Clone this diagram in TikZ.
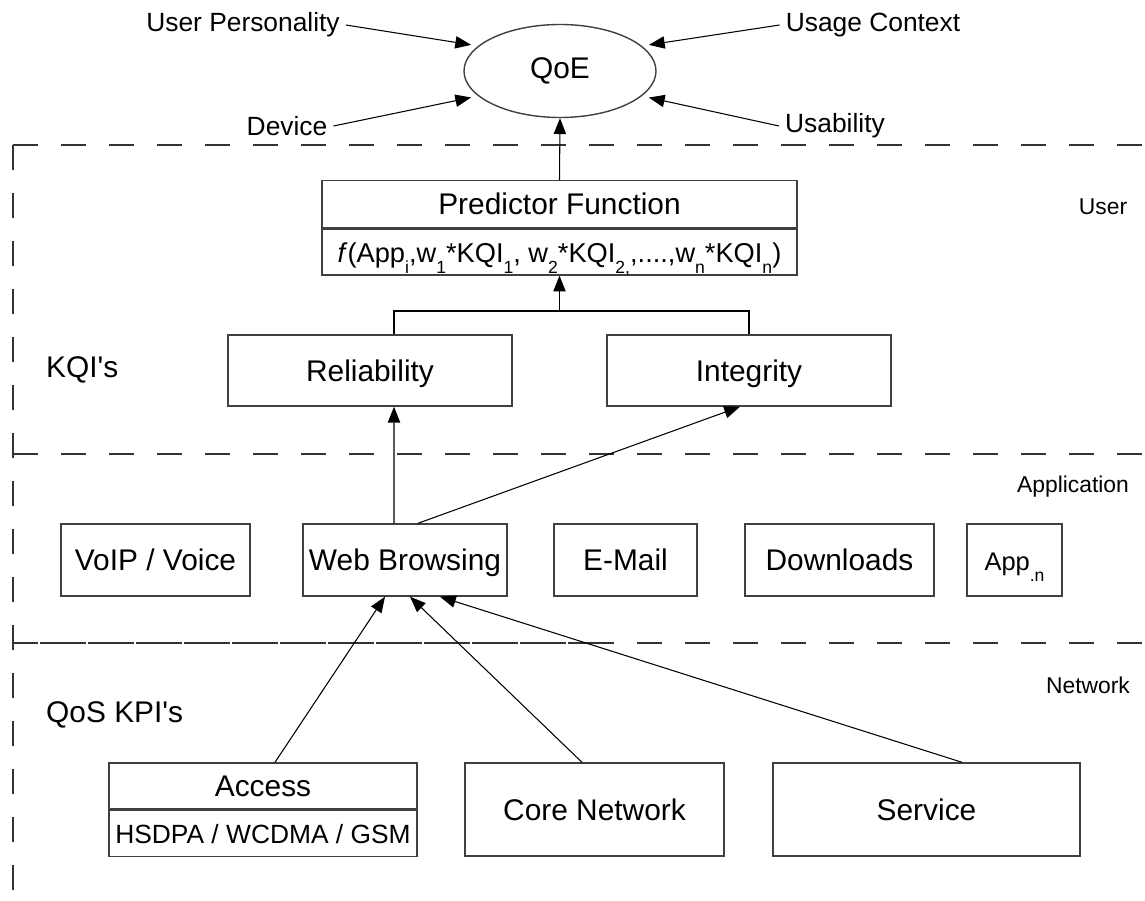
\documentclass[tikz,border=0pt]{standalone}
\usepackage{fontspec}
\setmainfont{Liberation Sans}
\usetikzlibrary{shapes.geometric, arrows.meta, positioning, calc}
\newcommand{\subtxt}[1]{\raisebox{-0.8ex}{\fontsize{10}{12}\selectfont #1}}
\tikzset{
    block/.style={rectangle, draw=black!75, line width=0.8pt, minimum height=1.42cm, align=center, font=\fontsize{17}{20}\selectfont, inner sep=2pt, text height=12pt, text depth=0pt},
    upper/.style={block, minimum height=0.94cm},
    lower/.style={block, minimum height=0.92cm},
    source/.style={font=\fontsize{15}{18}\selectfont},
    tier/.style={font=\fontsize{13}{16}\selectfont},
    arrow/.style={line width=0.6pt, -{Triangle[length=9pt,width=7pt]}},
    link/.style={line width=0.6pt},
    layer/.style={line width=0.7pt, black!80, dash pattern=on 0.5cm off 0.46cm}
}

\begin{document}
\begin{tikzpicture}
    \useasboundingbox (0,0) rectangle (22.9,-18.02);
    % layers
    \draw[layer] (0.26,-2.9) -- (22.9,-2.9);
    \draw[layer] (0.26,-9.08) -- (22.9,-9.08);
    \draw[layer] (0.26,-12.86) -- (22.9,-12.86);
    \draw[layer, dash phase=0.42cm] (0.26,-12.86) -- (11.8,-12.86);
    \draw[layer] (0.26,-2.9) -- (0.26,-18.02);
    \node[tier] (user) at (22.06,-4.14) {User};
    \node[tier] (appl) at (21.46,-9.74) {Application};
    \node[tier] (netw) at (21.76,-13.7) {Network};

    % QoE and what feeds it
    \node[ellipse, draw=black!75, line width=0.8pt, minimum width=3.84cm, minimum height=1.86cm, font=\fontsize{17}{20}\selectfont] (qoe) at (11.2,-1.42) {QoE};
    \node[source] (pers) at (4.86,-0.5) {User Personality};
    \node[source] (ctx) at (17.46,-0.5) {Usage Context};
    \node[source] (dev) at (5.74,-2.52) {Device};
    \node[source] (usab) at (16.7,-2.52) {Usability};
    \draw[arrow, shorten >=4pt] (pers.east) -- (qoe.163);
    \draw[arrow, shorten >=4pt] (ctx.west) -- (qoe.17);
    \draw[arrow, shorten >=4pt] (dev.east) -- (qoe.197);
    \draw[arrow, shorten >=4pt] (usab.west) -- (qoe.343);

    % predictor
    \node[upper, minimum width=9.5cm] (pred) at (11.19,-4.08) {Predictor Function};
    \node[lower, minimum width=9.5cm, anchor=north, font=\fontsize{15.5}{19}\selectfont] (predf) at (pred.south)
        {\textit{f}(App\subtxt{i},w\subtxt{1}*KQI\subtxt{1}, w\subtxt{2}*KQI\subtxt{2,},....,w\subtxt{n}*KQI\subtxt{n})};
    \draw[arrow] (pred.north) -- (qoe.south);

    % KQI's
    \node[anchor=west, font=\fontsize{17}{20}\selectfont] (kqi) at (0.8,-7.4) {KQI\textquotesingle s};
    \node[block, minimum width=5.68cm] (rel) at (7.4,-7.41) {Reliability};
    \node[block, minimum width=5.68cm] (integ) at (14.98,-7.41) {Integrity};
    \coordinate (join) at (11.19,-6.22);
    \draw[link] ([xshift=0.48cm]rel.north) |- (join) -| (integ.north);
    \draw[arrow] (join) -- (predf.south);

    % applications
    \node[block, minimum width=3.78cm, minimum height=1.44cm] (voip) at (3.11,-11.2) {VoIP / Voice};
    \node[block, minimum width=4.08cm, minimum height=1.44cm] (web) at (8.1,-11.2) {Web Browsing};
    \node[block, minimum width=2.86cm, minimum height=1.44cm] (mail) at (12.51,-11.2) {E-Mail};
    \node[block, minimum width=3.78cm, minimum height=1.44cm] (down) at (16.79,-11.2) {Downloads};
    \node[block, minimum width=1.9cm, minimum height=1.44cm, font=\fontsize{14.5}{17}\selectfont] (appn) at (20.29,-11.2) {App\subtxt{.n}};
    \draw[arrow] ([xshift=-0.22cm]web.north) -- ([xshift=0.48cm]rel.south);
    \draw[arrow] ([xshift=0.26cm]web.north) -- ([xshift=-0.18cm]integ.south);

    % QoS KPI's
    \node[anchor=west, font=\fontsize{17}{20}\selectfont] (kpi) at (0.8,-14.3) {QoS KPI\textquotesingle s};
    \node[upper, minimum width=6.16cm, minimum height=0.92cm] (acc) at (5.26,-15.72) {Access};
    \node[lower, minimum width=6.16cm, anchor=north, font=\fontsize{15}{18}\selectfont] (accf) at (acc.south) {HSDPA / WCDMA / GSM};
    \node[block, minimum width=5.18cm, minimum height=1.86cm] (core) at (11.89,-16.19) {Core Network};
    \node[block, minimum width=6.14cm, minimum height=1.86cm] (serv) at (18.53,-16.19) {Service};
    \draw[arrow] ([xshift=0.24cm]acc.north) -- ([xshift=-0.4cm]web.south);
    \draw[arrow] ([xshift=-0.25cm]core.north) -- ([xshift=0.1cm]web.south);
    \draw[arrow] ([xshift=0.71cm]serv.north) -- ([xshift=0.7cm]web.south);
\end{tikzpicture}
\end{document}
